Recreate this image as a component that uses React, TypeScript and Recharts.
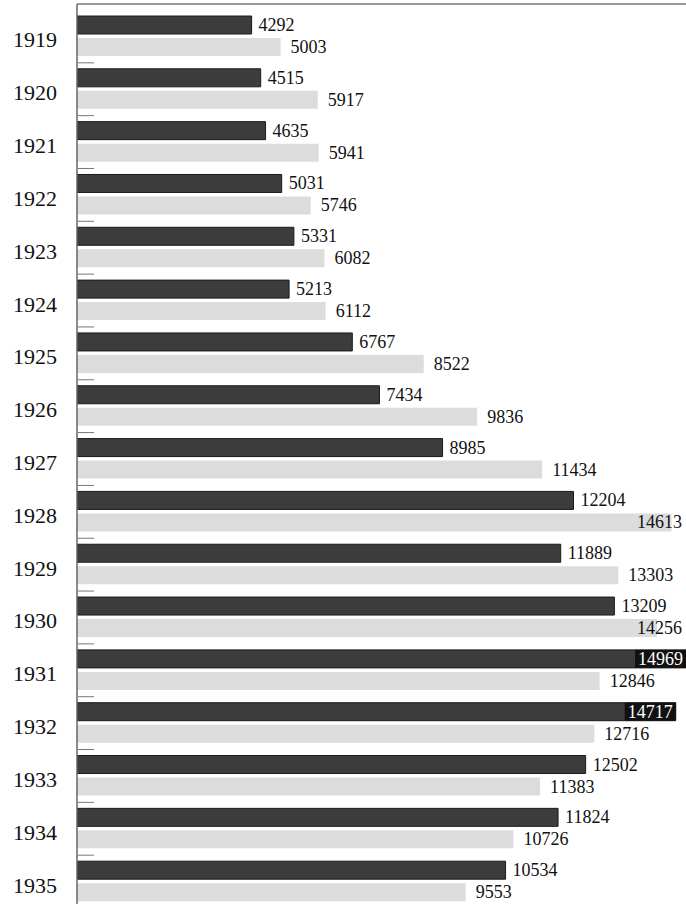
import { BarChart, Bar, XAxis, YAxis, LabelList } from 'recharts';

const years = ['1919', '1920', '1921', '1922', '1923', '1924', '1925', '1926', '1927', '1928', '1929', '1930', '1931', '1932', '1933', '1934', '1935'];
const darkValues = [4292, 4515, 4635, 5031, 5331, 5213, 6767, 7434, 8985, 12204, 11889, 13209, 14969, 14717, 12502, 11824, 10534];
const lightValues = [5003, 5917, 5941, 5746, 6082, 6112, 8522, 9836, 11434, 14613, 13303, 14256, 12846, 12716, 11383, 10726, 9553];

const data = years.map((year, i) => ({ year, dark: darkValues[i], light: lightValues[i] }));

const CHART_W = 686;
const CHART_H = 908;
const TOP = 2;
const X_AXIS_H = 2;
const PAD_TOP = 6;
const AXIS_W = 77;
const HALF_BAND = (CHART_H - TOP - X_AXIS_H - PAD_TOP) / years.length / 2;
const FONT = '"Liberation Serif", "Times New Roman", serif';

const YearTick = (props: any) => {
  const { y, payload, index } = props;
  return (
    <g>
      <text x={AXIS_W - 20} y={y + 11} textAnchor="end" fontSize={22} fontFamily={FONT} fill="#111">
        {payload.value}
      </text>
      {index > 0 && (
        <line x1={AXIS_W + 1} x2={AXIS_W + 17} y1={y - HALF_BAND} y2={y - HALF_BAND} stroke="#777" strokeWidth={1} />
      )}
    </g>
  );
};

const ValueLabel = (props: any) => {
  const { value, dark } = props;
  const x = Number(props.x);
  const y = Number(props.y);
  const width = Number(props.width);
  const height = Number(props.height);
  const end = x + width;
  const gap = dark ? 7 : 10;
  const textW = String(value).length * 9;
  const cy = y + height / 2 + 6;
  if (end + gap + textW > CHART_W - 2) {
    if (dark) {
      return (
        <g>
          <rect x={end - textW - 6} y={y} width={textW + 6} height={height} fill="#111" />
          <text x={end - 3} y={cy} textAnchor="end" fontSize={18} fontFamily={FONT} fill="#fff">
            {value}
          </text>
        </g>
      );
    }
    return (
      <text x={CHART_W - textW - 4} y={cy} fontSize={18} fontFamily={FONT} fill="#111">
        {value}
      </text>
    );
  }
  return (
    <text x={end + gap} y={cy} fontSize={18} fontFamily={FONT} fill="#111">
      {value}
    </text>
  );
};

export default function App() {
  return (
    <div style={{ position: 'absolute', top: 0, left: 0, width: CHART_W, height: 904, overflow: 'hidden', background: '#fff' }}>
      <BarChart
        width={CHART_W}
        height={CHART_H}
        data={data}
        layout="vertical"
        margin={{ top: TOP, right: 0, bottom: 0, left: 0 }}
        barSize={18}
        barGap={4}
      >
        <XAxis
          type="number"
          orientation="top"
          domain={[0, 14969]}
          allowDataOverflow
          height={X_AXIS_H}
          tick={false}
          tickLine={false}
          axisLine={{ stroke: '#777', strokeWidth: 1.5 }}
        />
        <YAxis
          type="category"
          dataKey="year"
          width={AXIS_W}
          padding={{ top: PAD_TOP, bottom: 0 }}
          interval={0}
          tickLine={false}
          axisLine={{ stroke: '#666', strokeWidth: 1.5 }}
          tick={<YearTick />}
        />
        <Bar dataKey="dark" fill="#3c3c3c" stroke="#1a1a1a" strokeWidth={1} isAnimationActive={false}>
          <LabelList dataKey="dark" content={(p: any) => <ValueLabel {...p} dark />} />
        </Bar>
        <Bar dataKey="light" fill="#dcdcdc" isAnimationActive={false}>
          <LabelList dataKey="light" content={(p: any) => <ValueLabel {...p} />} />
        </Bar>
      </BarChart>
    </div>
  );
}
